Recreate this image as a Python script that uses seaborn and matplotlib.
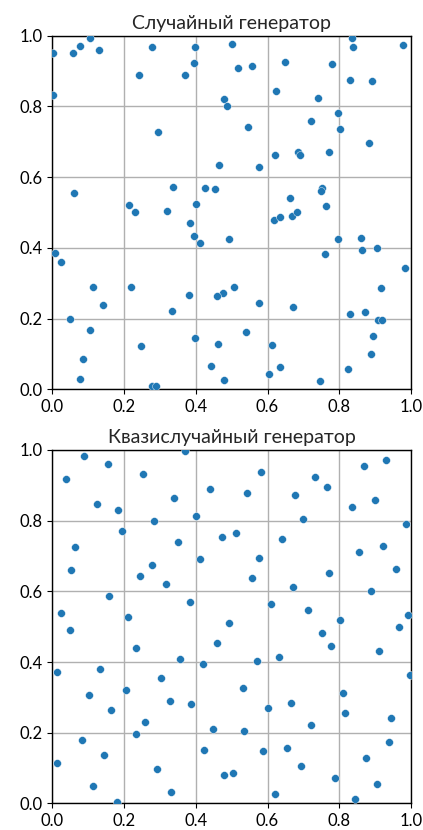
import matplotlib
matplotlib.use("Agg")
import matplotlib.pyplot as plt
import seaborn as sns
import pandas as pd

# Pseudo-random generator samples
rand_x = [0.004, 0.058, 0.077, 0.107, 0.132, 0.004, 0.278, 0.241, 0.399, 0.396,
          0.370, 0.479, 0.488, 0.500, 0.295, 0.465, 0.062, 0.338, 0.426, 0.455,
          0.214, 0.232, 0.321, 0.402, 0.518, 0.557, 0.649, 0.780, 0.835, 0.837,
          0.976, 0.831, 0.890, 0.625, 0.741, 0.795, 0.721, 0.803, 0.546, 0.884,
          0.621, 0.684, 0.690, 0.772, 0.576, 0.752, 0.750, 0.662, 0.763, 0.618,
          0.635, 0.667, 0.681, 0.493, 0.796, 0.860, 0.864, 0.904, 0.761, 0.983,
          0.917, 0.506, 0.477, 0.575, 0.671, 0.830, 0.871, 0.908, 0.919, 0.893,
          0.539, 0.612, 0.888, 0.634, 0.824, 0.603, 0.480, 0.745, 0.384, 0.395,
          0.411, 0.009, 0.026, 0.114, 0.219, 0.382, 0.459, 0.141, 0.333, 0.051,
          0.107, 0.397, 0.461, 0.248, 0.087, 0.444, 0.079, 0.279, 0.289]
rand_y = [0.952, 0.952, 0.970, 0.994, 0.960, 0.832, 0.968, 0.890, 0.967, 0.923,
          0.888, 0.820, 0.801, 0.976, 0.727, 0.635, 0.555, 0.572, 0.570, 0.565,
          0.522, 0.500, 0.505, 0.525, 0.910, 0.913, 0.926, 0.919, 0.994, 0.968,
          0.973, 0.875, 0.871, 0.844, 0.823, 0.782, 0.758, 0.735, 0.741, 0.696,
          0.662, 0.670, 0.662, 0.670, 0.628, 0.569, 0.560, 0.540, 0.518, 0.480,
          0.486, 0.490, 0.501, 0.424, 0.426, 0.429, 0.395, 0.400, 0.382, 0.343,
          0.285, 0.289, 0.271, 0.245, 0.232, 0.212, 0.218, 0.197, 0.197, 0.150,
          0.161, 0.126, 0.100, 0.062, 0.057, 0.042, 0.027, 0.023, 0.470, 0.433,
          0.414, 0.385, 0.360, 0.290, 0.290, 0.268, 0.264, 0.237, 0.222, 0.198,
          0.168, 0.145, 0.127, 0.122, 0.087, 0.067, 0.030, 0.009, 0.010]

# Quasi-random (low-discrepancy) samples
quasi_x = [0.090, 0.156, 0.038, 0.253, 0.370, 0.440, 0.340, 0.124, 0.185, 0.400,
           0.283, 0.195, 0.473, 0.064, 0.351, 0.411, 0.054, 0.278, 0.244, 0.317,
           0.159, 0.383, 0.025, 0.211, 0.049, 0.493,
           0.582, 0.542, 0.731, 0.765, 0.677, 0.869, 0.929, 0.900, 0.835, 0.698,
           0.985, 0.511, 0.641, 0.856, 0.921, 0.577, 0.958, 0.556, 0.771, 0.672,
           0.888, 0.611, 0.714, 0.801, 0.992, 0.967,
           0.235, 0.459, 0.357, 0.421, 0.015, 0.134, 0.303, 0.206, 0.104, 0.328,
           0.388, 0.164, 0.259, 0.449, 0.234, 0.084, 0.423, 0.146, 0.015, 0.292,
           0.479, 0.115, 0.331, 0.180,
           0.752, 0.778, 0.911, 0.571, 0.632, 0.996, 0.532, 0.811, 0.601, 0.665,
           0.817, 0.945, 0.720, 0.535, 0.939, 0.653, 0.587, 0.874, 0.692, 0.789,
           0.906, 0.622, 0.843, 0.503]
quasi_y = [0.983, 0.961, 0.917, 0.931, 0.996, 0.890, 0.865, 0.848, 0.830, 0.812,
           0.799, 0.771, 0.754, 0.726, 0.739, 0.690, 0.660, 0.673, 0.644, 0.622,
           0.588, 0.570, 0.539, 0.528, 0.491, 0.511,
           0.937, 0.878, 0.923, 0.896, 0.871, 0.955, 0.972, 0.858, 0.837, 0.805,
           0.791, 0.764, 0.747, 0.712, 0.729, 0.695, 0.663, 0.637, 0.653, 0.613,
           0.600, 0.565, 0.546, 0.520, 0.533, 0.499,
           0.439, 0.453, 0.408, 0.395, 0.373, 0.380, 0.355, 0.321, 0.306, 0.289,
           0.280, 0.263, 0.231, 0.211, 0.197, 0.179, 0.152, 0.138, 0.115, 0.098,
           0.081, 0.049, 0.032, 0.005,
           0.481, 0.446, 0.432, 0.404, 0.415, 0.363, 0.327, 0.313, 0.269, 0.283,
           0.255, 0.241, 0.223, 0.205, 0.174, 0.157, 0.147, 0.129, 0.107, 0.071,
           0.054, 0.027, 0.012, 0.085]

titles = ["Случайный генератор", "Квазислучайный генератор"]
ticks = [0.0, 0.2, 0.4, 0.6, 0.8, 1.0]
tick_labels = ["0.0", "0.2", "0.4", "0.6", "0.8", "1.0"]

sns.set_style("ticks")
plt.rcParams["font.family"] = ["Lato", "DejaVu Sans"]

fig = plt.figure(figsize=(4.23, 8.30), dpi=100)
ax_top = fig.add_axes([0.123, 0.531, 0.849, 0.426])
ax_bot = fig.add_axes([0.123, 0.032, 0.849, 0.426])

datasets = [(rand_x, rand_y), (quasi_x, quasi_y)]
for ax, (xs, ys), title in zip([ax_top, ax_bot], datasets, titles):
    df = pd.DataFrame({"x": xs, "y": ys})
    sns.scatterplot(data=df, x="x", y="y", ax=ax, color="#1f77b4",
                    s=32, edgecolor="white", linewidth=0.3, zorder=3)
    ax.set_xlim(0, 1)
    ax.set_ylim(0, 1)
    ax.set_xticks(ticks)
    ax.set_xticklabels(tick_labels)
    ax.set_yticks(ticks)
    ax.set_yticklabels(tick_labels)
    ax.grid(True, color="#b0b0b0", linewidth=1.0)
    ax.set_axisbelow(True)
    ax.set_xlabel("")
    ax.set_ylabel("")
    ax.set_title(title, fontsize=14, pad=5)
    ax.tick_params(labelsize=12, length=3.5, width=0.8, colors="black")
    for sp in ax.spines.values():
        sp.set_visible(True)
        sp.set_color("black")
        sp.set_linewidth(1.0)

fig.savefig("out.png", dpi=100)
